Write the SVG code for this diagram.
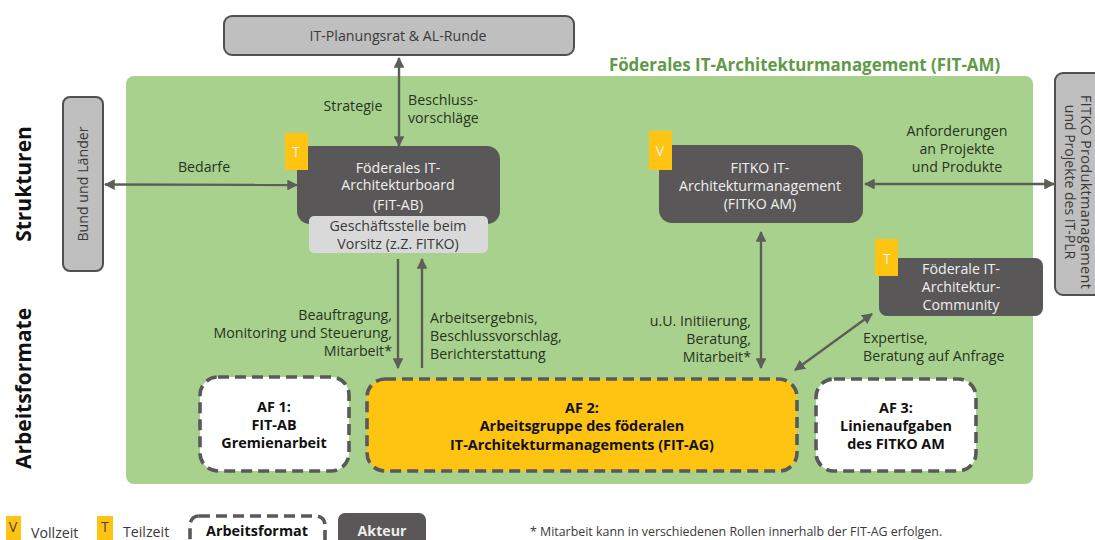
<svg xmlns="http://www.w3.org/2000/svg" width="1095" height="540" viewBox="0 0 1095 540">
<style>
text{font-family:"Open Sans","Noto Sans","Liberation Sans",sans-serif;font-size:14.2px;fill:#27331f;text-anchor:middle}
.w text,text.w{fill:#f0f0f0}
.b{font-weight:700;fill:#111;font-size:14.400px}
.g{fill:#bfbfbf;stroke:#505050;stroke-width:2}
.d{fill:#595757}
.y{fill:#ffc312}
.af{stroke:#595959;stroke-width:3.600;stroke-dasharray:11 6}
.c{fill:none;stroke:#5c5f58;stroke-width:2.400}
.h{font-size:21px;font-weight:700;fill:#111}
.s{fill:#3a3a3a}
.l{text-anchor:start}
.r{text-anchor:end}
.t{fill:#444}
</style>
<defs>
<marker id="a" viewBox="0 0 10 10" refX="9" refY="5" markerWidth="4.500" markerHeight="4.500" orient="auto-start-reverse"><path d="M0 0L10 5L0 10z" fill="#5c5f58"/></marker>
</defs>
<rect width="1095" height="540" fill="#fff"/>
<rect id="fit-am" x="126" y="76" width="907" height="408" rx="8" fill="#a9d18e"/>
<text x="804.500" y="71" style="font-size:16.900px;font-weight:700;fill:#5f9a46">Föderales IT-Architekturmanagement (FIT-AM)</text>
<text class="h" transform="translate(31 184) rotate(-90)">Strukturen</text>
<text class="h" transform="translate(31 388.500) rotate(-90)">Arbeitsformate</text>
<g id="connectors" class="c">
<path marker-start="url(#a)" marker-end="url(#a)" d="M399 58V146"/>
<path marker-start="url(#a)" marker-end="url(#a)" d="M105 184.500L297 185"/>
<path marker-start="url(#a)" marker-end="url(#a)" d="M865 184H1054"/>
<path marker-end="url(#a)" d="M398 259V368"/>
<path marker-end="url(#a)" d="M422 368V259"/>
<path marker-start="url(#a)" marker-end="url(#a)" d="M761 232V368"/>
<path marker-start="url(#a)" marker-end="url(#a)" d="M795 370L872 314"/>
</g>
<g id="it-plr"><rect class="g" x="224" y="16" width="350" height="39" rx="8"/><text class="s" x="398" y="41">IT-Planungsrat &amp; AL-Runde</text></g>
<g id="bund"><rect class="g" x="63" y="97" width="40" height="174" rx="7"/><text class="s" transform="translate(88 184) rotate(-90)">Bund und Länder</text></g>
<g id="fitko-pm"><rect class="g" x="1055" y="73" width="50" height="222" rx="8"/><text class="s" style="font-size:14.500px;letter-spacing:.3px" transform="translate(1081 192) rotate(90)">FITKO Produktmanagement</text><text class="s" style="font-size:14px" transform="translate(1065 182) rotate(90)">und Projekte des IT-PLR</text></g>
<g id="fit-ab" class="w"><rect class="d" x="297" y="146" width="203" height="78" rx="13"/><rect class="y" x="285" y="133" width="23" height="37"/><text x="296" y="157" class="t">T</text><text x="398" y="173">Föderales IT-</text><text x="398" y="190">Architekturboard</text><text x="398" y="210">(FIT-AB)</text></g>
<g id="geschaeftsstelle"><rect x="309" y="216" width="179" height="37" rx="5" fill="#d9d9d9"/><text class="s" x="398" y="231">Geschäftsstelle beim</text><text class="s" x="398" y="249">Vorsitz (z.Z. FITKO)</text></g>
<g id="fitko-am" class="w"><rect class="d" x="659" y="145" width="204" height="78" rx="13"/><rect class="y" x="649" y="131" width="23" height="39"/><text x="660" y="156" class="t">V</text><text x="760" y="173">FITKO IT-</text><text x="760" y="191">Architekturmanagement</text><text x="760" y="209">(FITKO AM)</text></g>
<g id="community" class="w"><rect class="d" x="879" y="258" width="164" height="58" rx="8"/><rect class="y" x="875" y="239" width="23" height="37"/><text x="887" y="264" class="t">T</text><text x="961" y="274">Föderale IT-</text><text x="961" y="292">Architektur-</text><text x="961" y="310">Community</text></g>
<g id="af1"><rect class="af" fill="#fff" x="200" y="377" width="149" height="94" rx="18"/><text class="b" x="274" y="412">AF 1:</text><text class="b" x="274" y="430">FIT-AB</text><text class="b" x="274" y="448">Gremienarbeit</text></g>
<g id="af2"><rect class="af y" x="367" y="379" width="430" height="92" rx="18"/><text class="b" x="582" y="413">AF 2:</text><text class="b" x="582" y="431">Arbeitsgruppe des föderalen</text><text class="b" x="582" y="450">IT-Architekturmanagements (FIT-AG)</text></g>
<g id="af3"><rect class="af" fill="#fff" x="816" y="379" width="160" height="92" rx="18"/><text class="b" x="896" y="413">AF 3:</text><text class="b" x="896" y="431">Linienaufgaben</text><text class="b" x="896" y="449">des FITKO AM</text></g>
<g id="labels">
<text x="353" y="111">Strategie</text>
<text x="408" y="105" class="l">Beschluss-</text><text x="408" y="123" class="l">vorschläge</text>
<text x="204" y="172">Bedarfe</text>
<text x="957" y="136">Anforderungen</text><text x="957" y="154">an Projekte</text><text x="957" y="172">und Produkte</text>
<text x="392" y="320" class="r">Beauftragung,</text><text x="392" y="338" class="r">Monitoring und Steuerung,</text><text x="392" y="356" class="r">Mitarbeit*</text>
<text x="430" y="323" class="l">Arbeitsergebnis,</text><text x="430" y="341" class="l">Beschlussvorschlag,</text><text x="430" y="359" class="l">Berichterstattung</text>
<text x="751" y="326" class="r">u.U. Initiierung,</text><text x="751" y="344" class="r">Beratung,</text><text x="751" y="362" class="r">Mitarbeit*</text>
<text x="863" y="343" class="l">Expertise,</text><text x="863" y="361" class="l">Beratung auf Anfrage</text>
</g>
<g id="legend">
<rect class="y" x="6" y="516" width="15" height="24"/><text x="13" y="532" class="t">V</text><text class="s l" x="31" y="538">Vollzeit</text>
<rect class="y" x="97" y="516" width="16" height="24"/><text x="105" y="532" class="t">T</text><text class="s l" x="123" y="537">Teilzeit</text>
<rect class="af" fill="#fff" x="190" y="516" width="135" height="40" rx="9"/><text class="b" x="257" y="536">Arbeitsformat</text>
<rect class="d" x="338" y="513" width="88" height="40" rx="7"/><text x="382" y="536" style="fill:#eee;font-weight:700">Akteur</text>
<text class="s l" x="530" y="536" style="font-size:12.400px">* Mitarbeit kann in verschiedenen Rollen innerhalb der FIT-AG erfolgen.</text>
</g>
</svg>
